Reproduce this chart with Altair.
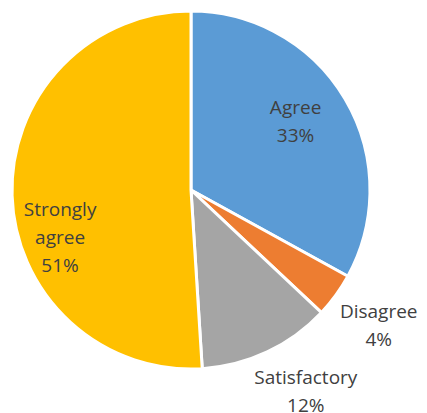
import altair as alt
import pandas as pd

categories = ["Agree", "Disagree", "Satisfactory", "Strongly agree"]
values = [33, 4, 12, 51]
labels = ["Agree\n33%", "Disagree\n4%", "Satisfactory\n12%", "Strongly\nagree\n51%"]
colors = ["#5B9BD5", "#ED7D31", "#A5A5A5", "#FFC000"]

df = pd.DataFrame({"category": categories, "value": values, "label": labels,
                   "idx": list(range(len(categories)))})

base = alt.Chart(df).encode(
    theta=alt.Theta("value:Q", stack=True),
    order=alt.Order("idx:Q"),
)

pie = base.mark_arc(outerRadius=179, stroke="white", strokeWidth=3).encode(
    color=alt.Color("category:N", scale=alt.Scale(domain=categories, range=colors), legend=None)
)

label_cfg = {
    "Agree": dict(radius=125, dx=-3, dy=-18),
    "Disagree": dict(radius=237, dx=-4, dy=-17),
    "Satisfactory": dict(radius=232, dx=16, dy=-22),
    "Strongly agree": dict(radius=140, dx=9, dy=16),
}

layers = [pie]
for cat in categories:
    cfg = label_cfg[cat]
    t = base.mark_text(
        radius=cfg["radius"], dx=cfg["dx"], dy=cfg["dy"],
        font="Open Sans", fontSize=19, color="#404040",
        lineBreak="\n", lineHeight=28, align="center", baseline="middle",
    ).encode(
        text="label:N",
        opacity=alt.condition(alt.datum.category == cat, alt.value(1), alt.value(0)),
    )
    layers.append(t)

chart = alt.layer(*layers).properties(
    width=366, height=364,
    autosize=alt.AutoSizeParams(type="none"),
    padding={"left": 0, "top": 0, "right": 45, "bottom": 40},
).configure_view(stroke=None)

chart.save("out.html", embed_options={"renderer": "svg", "actions": False})
